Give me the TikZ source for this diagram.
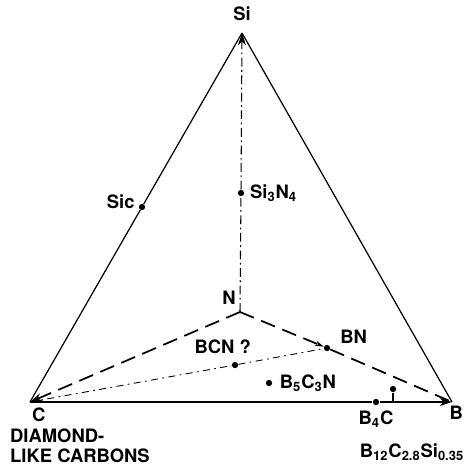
\documentclass[tikz,border=0pt]{standalone}
\usepackage{fontspec}
\setmainfont{TeX Gyre Heros}
\usetikzlibrary{positioning, arrows.meta}

\begin{document}
\begin{tikzpicture}[x=0.02cm, y=-0.02cm, >={Stealth[length=7pt, width=4.5pt]},
    font=\bfseries\fontsize{10.5}{11.5}\selectfont,
    lbl/.style ={inner sep=1pt},
    pt/.style  ={circle, fill, inner sep=0pt, minimum size=3.6pt},
    side/.style={line width=0.7pt},
    base/.style={line width=1.1pt},
    tie/.style ={line width=1pt, dash pattern=on 8.5pt off 4.5pt},
    chain/.style={line width=0.6pt, dash pattern=on 5pt off 2pt on 1pt off 2pt},
    thin/.style={line width=0.5pt, dash pattern=on 4pt off 2.5pt on 1pt off 2.5pt}]
    \useasboundingbox (0,0) rectangle (465,467);
    % corners of the diagram
    \coordinate (si) at (242,33);
    \coordinate (c)  at (30,402);
    \coordinate (b)  at (452,402);
    \coordinate (n)  at (240,312);
    % compounds
    \node[pt] (sic)   at (142,207) {};
    \node[pt] (si3n4) at (241,193) {};
    \node[pt] (bn)    at (327,348) {};
    \node[pt] (bcn)   at (235,365) {};
    \node[pt] (b5c3n) at (269,383) {};
    \node[pt] (b4c)   at (376,402) {};
    \node[pt] (bcs)   at (393,389) {};
    % outer edges
    \draw[side] (si) -- (sic) -- (c);
    \draw[side] (si) -- (b);
    \draw[base, ->] (c) -- (b4c) -- (b);
    % nitrogen ties
    \draw[chain, ->] (n) -- (si3n4) -- (si);
    \draw[tie, ->] (n) -- (c);
    \draw[tie, -{Stealth[length=5pt, width=3pt]}] (n) -- (bn);
    \draw[tie] (bn) -- (b);
    \draw[thin] (c) -- (bcn) -- (bn);
    \draw[line width=0.9pt] (bcs) -- (bcs |- b);
    % labels
    \node[lbl, above=6pt of si] {Si};
    \node[lbl, left=1pt of sic, yshift=3pt] {Sic};
    \node[lbl, right=2pt of si3n4] {Si\textsubscript{3}N\textsubscript{4}};
    \node[lbl] at (229,298) {N};
    \node[lbl, above right=0pt and 5pt of bn] {BN};
    \node[lbl, above=3pt of bcn, xshift=-7] {BCN ?};
    \node[lbl, right=3pt of b5c3n] {B\textsubscript{5}C\textsubscript{3}N};
    \node[lbl, below=2pt of c, xshift=5] (clbl) {C};
    \node[lbl, align=left, anchor=north west] at (8,427) {DIAMOND-\\LIKE CARBONS};
    \node[lbl, below=2pt of b4c] {B\textsubscript{4}C};
    \node[lbl, anchor=east] at (465,413) {B};
    \node[lbl] at (412,452) {B\textsubscript{12}C\textsubscript{2.8}Si\textsubscript{0.35}};
\end{tikzpicture}
\end{document}
